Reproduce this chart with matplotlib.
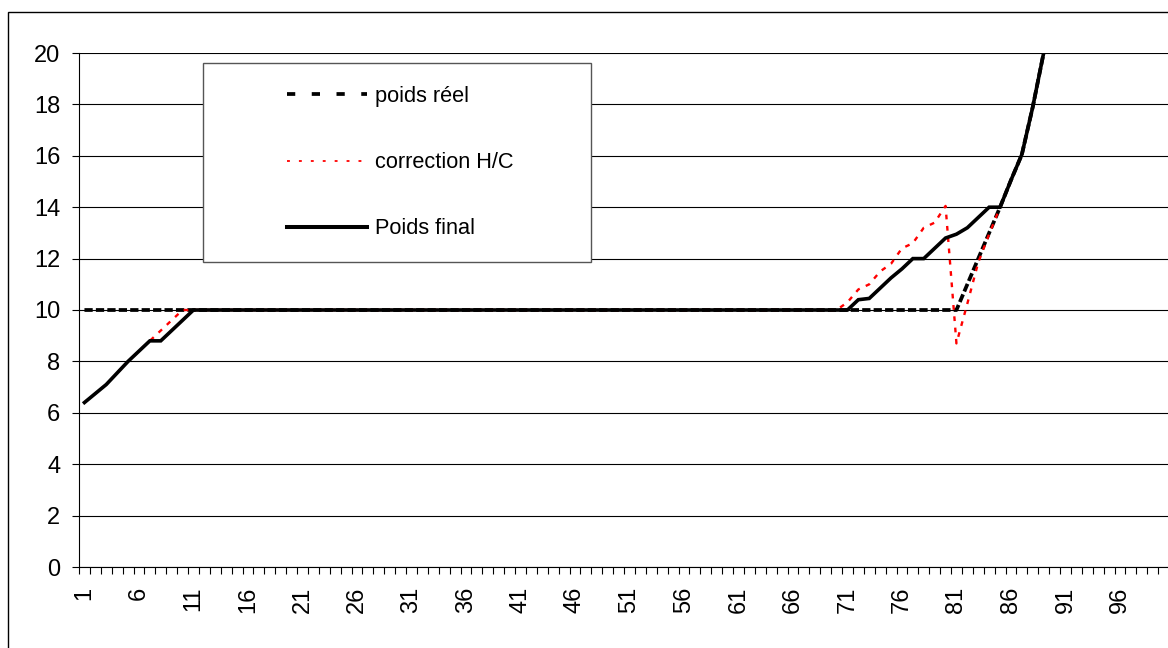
import matplotlib
matplotlib.use("Agg")
import matplotlib.pyplot as plt
from matplotlib.lines import Line2D
from matplotlib.patches import Rectangle

plt.rcParams['font.family'] = ['Liberation Sans', 'DejaVu Sans']

# jours 1..89
jours = list(range(1, 90))

poids_reel = [10, 10, 10, 10, 10, 10, 10, 10, 10, 10,
              10, 10, 10, 10, 10, 10, 10, 10, 10, 10,
              10, 10, 10, 10, 10, 10, 10, 10, 10, 10,
              10, 10, 10, 10, 10, 10, 10, 10, 10, 10,
              10, 10, 10, 10, 10, 10, 10, 10, 10, 10,
              10, 10, 10, 10, 10, 10, 10, 10, 10, 10,
              10, 10, 10, 10, 10, 10, 10, 10, 10, 10,
              10, 10, 10, 10, 10, 10, 10, 10, 10, 10,
              10, 11, 12, 13, 14, 15.05, 16.05, 17.9, 20]

correction_hc = [6.4, 6.75, 7.1, 7.55, 8.0, 8.4, 8.8, 9.2, 9.6, 10,
                 10, 10, 10, 10, 10, 10, 10, 10, 10, 10,
                 10, 10, 10, 10, 10, 10, 10, 10, 10, 10,
                 10, 10, 10, 10, 10, 10, 10, 10, 10, 10,
                 10, 10, 10, 10, 10, 10, 10, 10, 10, 10,
                 10, 10, 10, 10, 10, 10, 10, 10, 10, 10,
                 10, 10, 10, 10, 10, 10, 10, 10, 10, 10,
                 10.3, 10.8, 11.0, 11.5, 11.8, 12.4, 12.6, 13.2, 13.4, 14.05,
                 8.7, 10.25, 11.85, 12.95, 14.0, 15.05, 16.05, 17.9, 20]

poids_final = [6.4, 6.75, 7.1, 7.55, 8.0, 8.4, 8.8, 8.8, 9.2, 9.6,
               10, 10, 10, 10, 10, 10, 10, 10, 10, 10,
               10, 10, 10, 10, 10, 10, 10, 10, 10, 10,
               10, 10, 10, 10, 10, 10, 10, 10, 10, 10,
               10, 10, 10, 10, 10, 10, 10, 10, 10, 10,
               10, 10, 10, 10, 10, 10, 10, 10, 10, 10,
               10, 10, 10, 10, 10, 10, 10, 10, 10, 10,
               10, 10.4, 10.45, 10.85, 11.25, 11.6, 12.0, 12.0, 12.4, 12.8,
               12.95, 13.2, 13.6, 14.0, 14.0, 15.05, 16.05, 17.9, 20]

labels = ["poids réel", "correction H/C", "Poids final"]

fig = plt.figure(figsize=(11.68, 6.48), dpi=100)
W, H = 1168.0, 648.0

# cadre exterieur du graphique (coupe a droite et en bas)
fig.patches.append(Rectangle((8 / W, -0.1), 1.2, 1.1 - 12 / H, transform=fig.transFigure,
                             fill=False, edgecolor="black", linewidth=1.0))

ax = fig.add_axes([79 / W, 1 - 567 / H, (1169 - 79) / W, (567 - 53) / H])

# series
ax.plot(jours, poids_reel, color="black", linewidth=2.7, dashes=(2.2, 0.85))
ax.plot(jours, correction_hc, color="red", linewidth=1.7, dashes=(2.0, 2.8))
ax.plot(jours, poids_final, color="black", linewidth=2.6, solid_joinstyle="miter")

ax.set_xlim(0.5, 100.5)
ax.set_ylim(0, 20)

ax.set_yticks(range(0, 21, 2))
ax.yaxis.grid(True, color="black", linewidth=0.8)
ax.set_axisbelow(True)

ax.set_xticks(range(1, 101, 5))
ax.set_xticks([i + 0.5 for i in range(0, 101)], minor=True)
ax.tick_params(axis="x", which="major", length=0, pad=14, labelsize=17, labelrotation=90)
ax.tick_params(axis="x", which="minor", length=5, width=0.8, direction="out")
ax.tick_params(axis="y", length=5, width=0.8, direction="out", pad=8.5, labelsize=17)

for s in ["top", "right"]:
    ax.spines[s].set_visible(False)
ax.spines["left"].set_linewidth(0.8)
ax.spines["bottom"].set_linewidth(0.8)

# legende
ax.add_patch(Rectangle((203 / W, 1 - 262 / H), (591 - 203) / W, (262 - 63) / H,
                       transform=fig.transFigure, facecolor="white",
                       edgecolor="#555555", linewidth=1.0, zorder=4))
handles = [Line2D([], [], color="black", linewidth=2.7, dashes=(2.2, 4.4)),
           Line2D([], [], color="red", linewidth=1.3, dashes=(1.6, 5.0)),
           Line2D([], [], color="black", linewidth=2.9)]
leg = ax.legend(handles, labels, loc="upper left",
                bbox_to_anchor=(287 / W, 1 - 86 / H), bbox_transform=fig.transFigure,
                frameon=False, borderpad=0, borderaxespad=0, fontsize=15.7,
                handlelength=3.68, handletextpad=0.35, labelspacing=2.07)
leg.set_zorder(6)

fig.savefig("out.png", dpi=100)
